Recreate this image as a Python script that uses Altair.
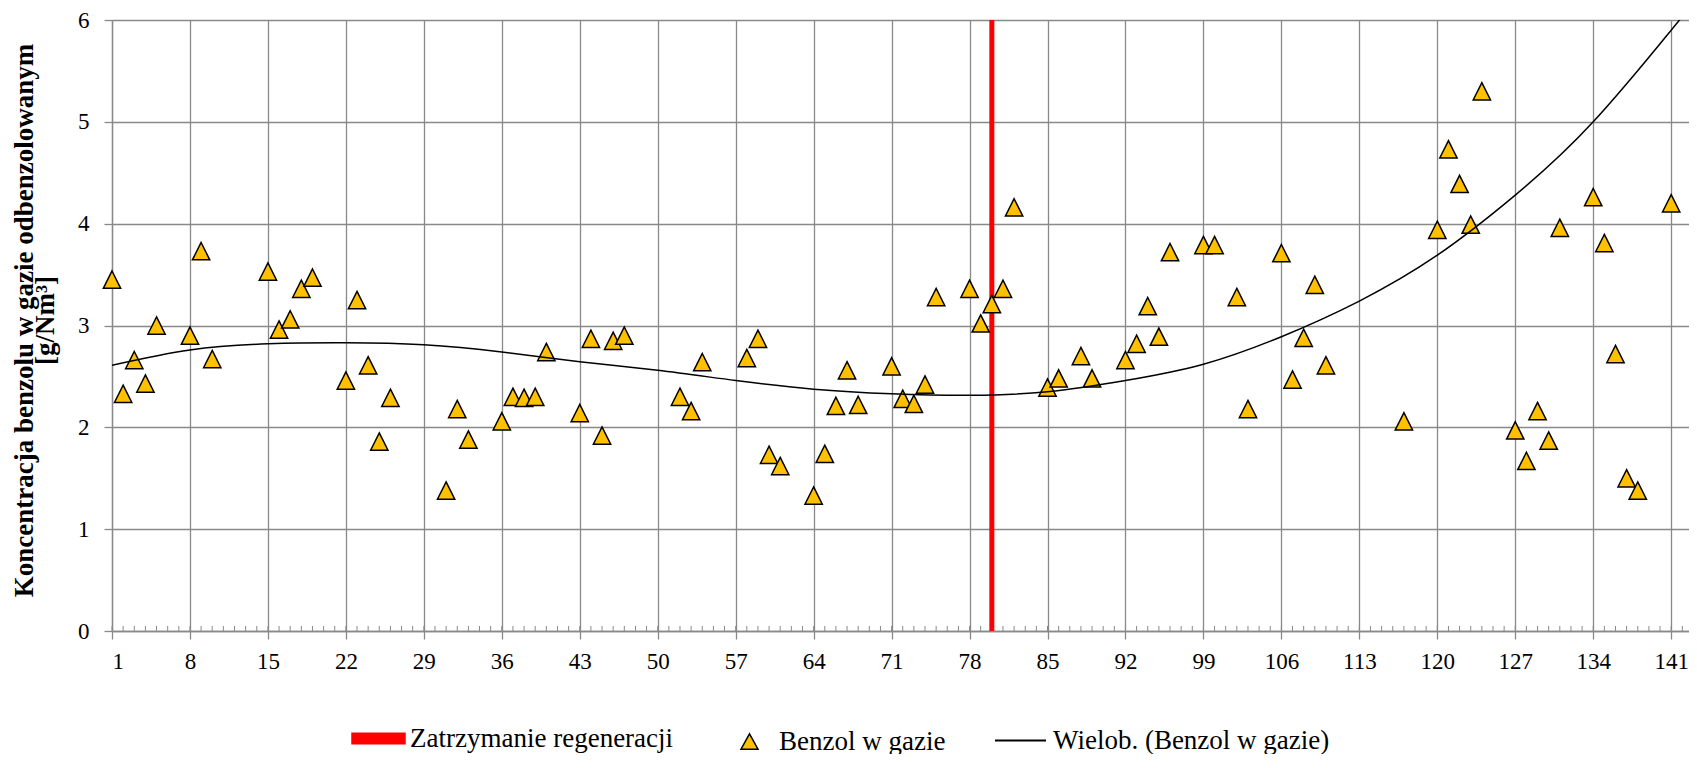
import altair as alt
import pandas as pd

# ---------------- data ----------------
days = [1, 2, 3, 4, 5, 8, 9, 10, 15, 16, 17, 18, 19, 22, 23, 24, 25, 26,
        31, 32, 33, 36, 37, 38, 39, 40, 43, 44, 45, 46, 47, 52, 53, 54,
        58, 59, 60, 61, 64, 65, 66, 67, 68, 71, 72, 73, 74, 75, 78, 79,
        80, 81, 82, 85, 86, 88, 89, 92, 93, 94, 95, 96, 99, 100, 102, 103,
        106, 107, 108, 109, 110, 117, 120, 121, 122, 123, 124, 127, 128,
        129, 130, 131, 134, 135, 136, 137, 138, 141]
benzol = [3.45, 2.33, 2.66, 2.43, 3.00, 2.90, 3.73, 2.67, 3.53, 2.96, 3.06,
          3.36, 3.47, 2.46, 3.25, 2.61, 1.86, 2.29, 1.38, 2.18, 1.88, 2.06,
          2.30, 2.29, 2.30, 2.74, 2.14, 2.87, 1.92, 2.85, 2.90, 2.30, 2.16,
          2.64, 2.68, 2.87, 1.73, 1.62, 1.33, 1.74, 2.21, 2.56, 2.22, 2.60,
          2.28, 2.23, 2.42, 3.28, 3.36, 3.02, 3.21, 3.36, 4.16, 2.39, 2.48,
          2.70, 2.48, 2.66, 2.82, 3.19, 2.89, 3.72, 3.79, 3.79, 3.28, 2.18,
          3.71, 2.47, 2.88, 3.40, 2.61, 2.06, 3.94, 4.73, 4.39, 3.99, 5.30,
          1.97, 1.67, 2.16, 1.87, 3.96, 4.26, 3.81, 2.72, 1.50, 1.38, 4.20]
# polynomial trend line (Excel "Wielob." trendline)
trend_days = [1, 8, 15, 22, 29, 36, 43, 50, 57, 64, 71, 78, 85, 92, 99,
              106, 113, 120, 127, 134, 141, 142]
trend_vals = [2.61, 2.76, 2.82, 2.83, 2.81, 2.74, 2.645, 2.56, 2.46, 2.375,
              2.33, 2.315, 2.35, 2.46, 2.62, 2.89, 3.24, 3.69, 4.28, 5.00,
              5.90, 6.03]
stop_day = [80]
x_ticks = [1, 8, 15, 22, 29, 36, 43, 50, 57, 64, 71, 78, 85, 92, 99, 106,
           113, 120, 127, 134, 141]
y_ticks = [0, 1, 2, 3, 4, 5, 6]
minor_ticks = list(range(1, 143))

lab_stop = "Zatrzymanie regeneracji"
lab_pts = "Benzol w gazie"
lab_trend = "Wielob. (Benzol w gazie)"
y_title = ["Koncentracja benzolu w gazie odbenzolowanym", "[g/Nm³]"]

# ---------------- style ----------------
FONT = "Liberation Serif"
GRID = "#898989"
W, H = 1577, 611
XMAX = 142.6

df = pd.DataFrame({"day": days, "val": benzol, "s": lab_pts})
df_trend = pd.DataFrame({"day": trend_days, "val": trend_vals, "s": lab_trend})
df_stop = pd.DataFrame({"day": stop_day, "s": lab_stop})
df_minor = pd.DataFrame({"m": minor_ticks})

xscale = alt.Scale(domain=[1, XMAX], nice=False, zero=False)
yscale = alt.Scale(domain=[0, 6], nice=False, zero=False)

xaxis = alt.Axis(values=x_ticks, grid=True, gridColor=GRID, gridWidth=1.3,
                 domainColor=GRID, domainWidth=1.3, tickColor=GRID,
                 tickWidth=1.3, tickSize=8, labelFont=FONT, labelFontSize=23,
                 labelColor="black", labelPadding=11, title=None,
                 labelOverlap=False)
yaxis = alt.Axis(values=y_ticks, grid=True, gridColor=GRID, gridWidth=1.3,
                 domainColor=GRID, domainWidth=1.3, tickColor=GRID,
                 tickWidth=1.3, tickSize=8, labelFont=FONT, labelFontSize=23,
                 labelColor="black", labelPadding=15,
                 title=y_title,
                 titleFont=FONT, titleFontSize=27, titleFontWeight="bold",
                 titleColor="black", titleLineHeight=21, titleX=-88,
                 titleY=300, titleBaseline="middle", titleAngle=270)

X = alt.X("day:Q", scale=xscale, axis=xaxis)
Y = alt.Y("val:Q", scale=yscale, axis=yaxis)


def leg(x, y, **kw):
    return alt.Legend(orient="none", legendX=x, legendY=y, title=None,
                      padding=0, labelFont=FONT, labelFontSize=27,
                      labelColor="black", labelLimit=0, **kw)


LEG_DY = -4

stop = alt.Chart(df_stop).mark_rule(strokeWidth=5).encode(
    x=X,
    color=alt.Color("s:N", scale=alt.Scale(domain=[lab_stop], range=["#FF0000"]),
                    legend=leg(251, 707 + LEG_DY, symbolType="M-3,0L3,0",
                               symbolStrokeWidth=12, symbolSize=330,
                               labelOffset=16)),
)

minor = alt.Chart(df_minor).mark_rule(color=GRID, strokeWidth=1).encode(
    x=alt.X("m:Q", scale=xscale, axis=xaxis),
    y=alt.value(H - 5), y2=alt.value(H),
)

pts = alt.Chart(df).mark_point(
    shape="M0,-1L1,1L-1,1Z", filled=True, stroke="black", strokeWidth=1.5,
    size=300, opacity=1,
).encode(
    x=X, y=Y,
    color=alt.Color("s:N", scale=alt.Scale(domain=[lab_pts], range=["#FFC000"]),
                    legend=leg(624, 712 + LEG_DY,
                               symbolType="M0,-0.9L1,0.9L-1,0.9Z",
                               symbolSize=289, symbolStrokeColor="black",
                               symbolStrokeWidth=1.5, labelOffset=16)),
)

trend = alt.Chart(df_trend).mark_line(
    strokeWidth=1.5, clip=True, interpolate="natural"
).encode(
    x=X, y=Y,
    color=alt.Color("s:N", scale=alt.Scale(domain=[lab_trend], range=["black"]),
                    legend=leg(895, 711 + LEG_DY, symbolType="M-3,0L3,0",
                               symbolSize=289, symbolStrokeWidth=2,
                               labelOffset=19)),
)

chart = alt.layer(minor, stop, pts, trend).resolve_scale(
    color="independent"
).resolve_legend(color="independent").properties(
    width=W, height=H,
    autosize=alt.AutoSizeParams(type="none"),
    padding={"left": 104, "top": 12, "right": 0, "bottom": 123},
).configure_view(stroke=None).configure(background="white")

chart.save("out.html", embed_options={"renderer": "svg", "actions": False})
